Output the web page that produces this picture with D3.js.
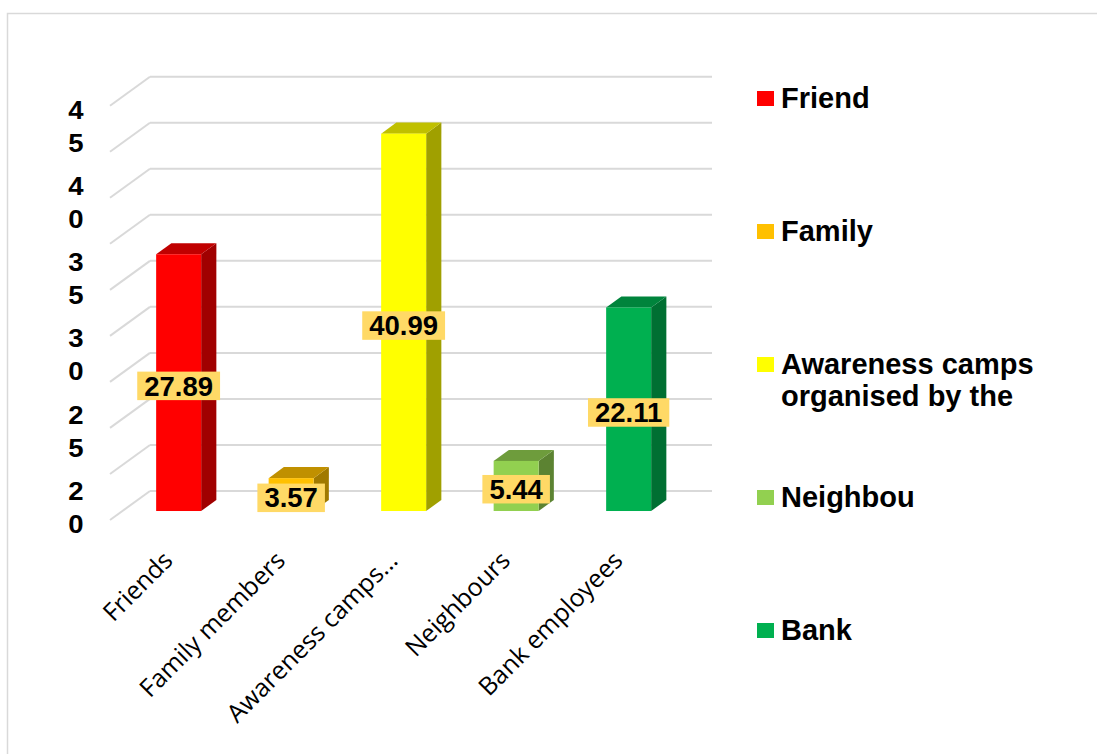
<!DOCTYPE html>
<html>
<head>
<meta charset="utf-8">
<script src="https://cdn.jsdelivr.net/npm/d3@7"></script>
<style>
  html, body { margin: 0; padding: 0; background: #fff; }
  svg { display: block; }
</style>
</head>
<body>
<svg id="chart" width="1097" height="754"></svg>
<script>
// Sources of information (percent of respondents)
const categories = ["Friends", "Family members", "Awareness camps...", "Neighbours", "Bank employees"];
const values = [27.89, 3.57, 40.99, 5.44, 22.11];
const legendLabels = [["Friend"], ["Family"], ["Awareness camps", "organised by the"], ["Neighbou"], ["Bank"]];
const colors = ["#FF0000", "#FFC000", "#FFFF00", "#92D050", "#00B050"];
const gridValues = [0, 5, 10, 15, 20, 25, 30, 35, 40, 45];
const yTickLabels = ["45", "40", "35", "30", "25", "20"];

const svg = d3.select("#chart");

// outer chart border
svg.append("rect")
  .attr("x", 7.5).attr("y", 13.5)
  .attr("width", 1200).attr("height", 900)
  .attr("fill", "none").attr("stroke", "#d9d9d9").attr("stroke-width", 1.5);

// 3-D frame geometry: front plane and a depth vector toward the back wall
const front = { x0: 110, x1: 672.5, y0: 520 };
const depth = { dx: 40, dy: -29 };
const barDepthStart = 0.31, barDepthEnd = 0.69;

const x = d3.scaleBand().domain(categories).range([front.x0, front.x1])
  .paddingInner(0.6).paddingOuter(0.3);
const y = d3.scaleLinear().domain([0, 45]).range([0, 414.3]);

const grid = svg.append("g").attr("fill", "none").attr("stroke", "#d9d9d9").attr("stroke-width", 2);
// back wall gridlines
grid.selectAll("line.back").data(gridValues).join("line")
  .attr("class", "back")
  .attr("x1", front.x0 + depth.dx).attr("x2", front.x1 + depth.dx - 0.5)
  .attr("y1", d => front.y0 + depth.dy - y(d)).attr("y2", d => front.y0 + depth.dy - y(d));
// side wall gridlines
grid.selectAll("line.side").data(gridValues).join("line")
  .attr("class", "side")
  .attr("x1", front.x0).attr("y1", d => front.y0 - y(d))
  .attr("x2", front.x0 + depth.dx).attr("y2", d => front.y0 + depth.dy - y(d));

// bars
const ox = depth.dx * barDepthStart, oy = depth.dy * barDepthStart;
const bdx = depth.dx * (barDepthEnd - barDepthStart), bdy = depth.dy * (barDepthEnd - barDepthStart);
const bars = svg.append("g");
categories.forEach((c, i) => {
  const c0 = d3.color(colors[i]);
  const xl = x(c) + ox, xr = xl + x.bandwidth();
  const yb = front.y0 + oy, yt = yb - y(values[i]);
  const g = bars.append("g");
  // side face
  g.append("path")
    .attr("d", `M${xr},${yb} L${xr + bdx},${yb + bdy} L${xr + bdx},${yt + bdy} L${xr},${yt} Z`)
    .attr("fill", c0.darker(1.3));
  // top face
  g.append("path")
    .attr("d", `M${xl},${yt} L${xl + bdx},${yt + bdy} L${xr + bdx},${yt + bdy} L${xr},${yt} Z`)
    .attr("fill", c0.darker(0.8));
  // front face
  g.append("rect")
    .attr("x", xl).attr("y", yt).attr("width", x.bandwidth()).attr("height", y(values[i]))
    .attr("fill", colors[i]);
});

// data labels
const labels = svg.append("g");
categories.forEach((c, i) => {
  const cx = x(c) + ox + x.bandwidth() / 2;
  const cy = front.y0 + oy - y(values[i]) / 2 + 3;
  const g = labels.append("g").attr("transform", `translate(${cx},${cy})`);
  const r = g.append("rect").attr("fill", "#FFD966");
  const t = g.append("text")
    .attr("text-anchor", "middle").attr("dy", "0.36em")
    .attr("font-family", "Liberation Sans, Arial, sans-serif")
    .attr("font-weight", "bold").attr("font-size", 27.5)
    .text(values[i].toFixed(2));
  const w = t.node().getComputedTextLength() + 14;
  r.attr("x", -w / 2).attr("y", -14).attr("width", w).attr("height", 28.5);
});

// value-axis labels, wrapped one digit per line
const yl = d3.scalePoint().domain(yTickLabels).range([109.5, 491]);
const yAxis = svg.append("g")
  .attr("font-family", "Liberation Sans, Arial, sans-serif")
  .attr("font-weight", "bold").attr("font-size", 25).attr("fill", "#000");
yTickLabels.forEach(lbl => {
  lbl.split("").forEach((ch, j) => {
    yAxis.append("text")
      .attr("transform", `translate(76,${yl(lbl) + j * 33}) scale(1.1,1)`)
      .attr("text-anchor", "middle").attr("dy", "0.36em")
      .text(ch);
  });
});

// category labels, rotated
const xAxis = svg.append("g")
  .attr("font-family", "Open Sans, sans-serif")
  .attr("font-size", 25).attr("fill", "#000");
categories.forEach(c => {
  const cx = x(c) + x.bandwidth() / 2;
  xAxis.append("text")
    .attr("transform", `translate(${cx + 8},${front.y0 + 42}) rotate(-45)`)
    .attr("text-anchor", "end")
    .text(c);
});

// legend
const legend = svg.append("g")
  .attr("font-family", "Liberation Sans, Arial, sans-serif")
  .attr("font-weight", "bold").attr("font-size", 29).attr("fill", "#000");
const ly = d3.scalePoint().domain(d3.range(legendLabels.length)).range([108, 640]);
legendLabels.forEach((lines, i) => {
  const base = ly(i);
  legend.append("rect")
    .attr("x", 757).attr("y", base - 17).attr("width", 17).attr("height", 15)
    .attr("fill", colors[i]);
  lines.forEach((ln, j) => {
    legend.append("text")
      .attr("x", 781).attr("y", base + j * 32)
      .text(ln);
  });
});
</script>
</body>
</html>
